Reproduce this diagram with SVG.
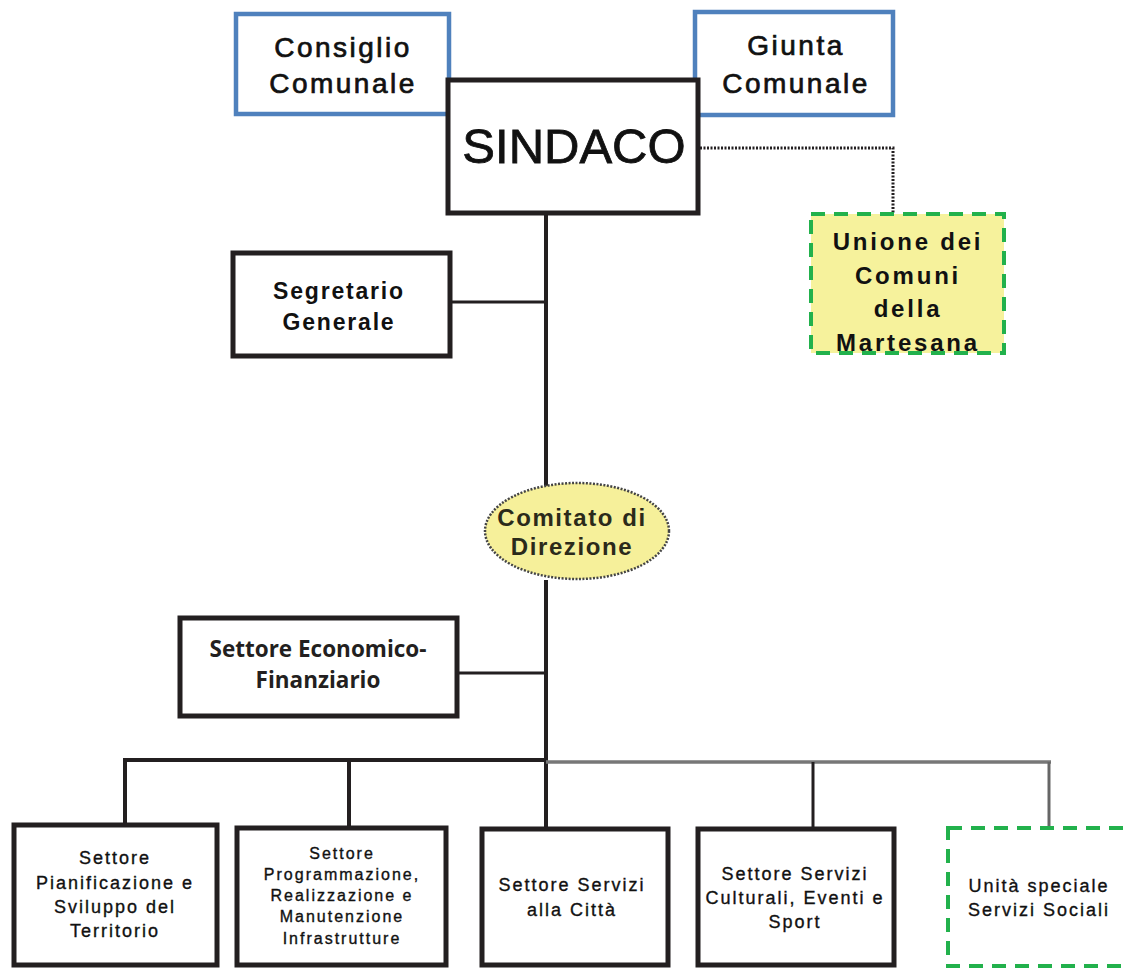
<svg xmlns="http://www.w3.org/2000/svg" width="1126" height="968" viewBox="0 0 1126 968">
<style>
.box{fill:#fff;stroke:#231f20;stroke-width:5}
.blue{fill:#fff;stroke:#4f81bd;stroke-width:4.5}
.green{stroke:#22b14c;stroke-width:4;stroke-dasharray:14,9}
.t{font-family:"Liberation Sans",Arial,sans-serif;fill:#111;text-anchor:middle}
.big{font-size:28px;letter-spacing:2.5px;stroke:#111;stroke-width:0.7px}
.b{font-weight:bold}
.sm{font-size:18px;letter-spacing:2px;stroke:#111;stroke-width:0.35px}
.xs{font-size:16px;letter-spacing:2px;stroke:#111;stroke-width:0.35px}
.ln{stroke:#231f20;fill:none}
</style>
<rect width="1126" height="968" fill="#fff"/>
<g id="connectors">
<path class="ln" d="M700 148 H893 V213" stroke-width="3" stroke="#444" stroke-dasharray="2,1.5"/>
<path class="ln" d="M546 213 V486" stroke-width="4"/>
<path class="ln" d="M546 580 V828" stroke-width="4"/>
<path class="ln" d="M450 302 H546" stroke-width="3"/>
<path class="ln" d="M458 673 H546" stroke-width="3" stroke="#333"/>
<path class="ln" d="M123 760 H548" stroke-width="4"/>
<path class="ln" d="M125 758 V824" stroke-width="4"/>
<path class="ln" d="M349 758 V827" stroke-width="4"/>
<path d="M546 762 H1051" stroke="#777" stroke-width="3.5" fill="none"/>
<path class="ln" d="M813 762 V828" stroke-width="3" stroke="#333"/>
<path d="M1049 762 V830" stroke="#666" stroke-width="3" fill="none"/>
</g>
<g id="consiglio">
<rect class="blue" x="236" y="14" width="213" height="100"/>
<text class="t big" x="343" y="57">Consiglio</text>
<text class="t big" x="343" y="93">Comunale</text>
</g>
<g id="giunta">
<rect class="blue" x="695" y="12" width="198" height="103"/>
<text class="t big" x="796" y="55">Giunta</text>
<text class="t big" x="796" y="93">Comunale</text>
</g>
<g id="sindaco">
<rect class="box" x="448" y="80" width="250" height="133"/>
<text class="t" x="574" y="163" font-size="49" stroke="#111" stroke-width="0.8">SINDACO</text>
</g>
<g id="unione">
<rect x="811" y="214" width="193" height="139" fill="#f6f29c" class="green"/>
<text class="t b" x="908" y="250" font-size="24" letter-spacing="2.8">Unione dei</text>
<text class="t b" x="908" y="284" font-size="24" letter-spacing="2.8">Comuni</text>
<text class="t b" x="908" y="317" font-size="24" letter-spacing="2.8">della</text>
<text class="t b" x="908" y="351" font-size="24" letter-spacing="2.8">Martesana</text>
</g>
<g id="segretario">
<rect class="box" x="233" y="253" width="217" height="103"/>
<text class="t b" x="339" y="299" font-size="23" letter-spacing="1.8">Segretario</text>
<text class="t b" x="339" y="330" font-size="23" letter-spacing="1.8">Generale</text>
</g>
<g id="comitato">
<ellipse cx="577" cy="531" rx="92" ry="48" fill="#f6f09a" stroke="#444" stroke-width="2.5" stroke-dasharray="2,1.5"/>
<text class="t b" x="572" y="526" font-size="24" letter-spacing="1.6" style="fill:#2b2a1a">Comitato di</text>
<text class="t b" x="572" y="555" font-size="24" letter-spacing="1.6" style="fill:#2b2a1a">Direzione</text>
</g>
<g id="economico">
<rect class="box" x="180" y="618" width="277" height="98" stroke-width="4.5"/>
<text x="318" y="657" font-family="'Open Sans','Noto Sans',sans-serif" font-weight="bold" font-size="22.5" text-anchor="middle" fill="#231f20">Settore Economico-</text>
<text x="318" y="688" font-family="'Open Sans','Noto Sans',sans-serif" font-weight="bold" font-size="22.5" text-anchor="middle" fill="#231f20">Finanziario</text>
</g>
<g id="pianificazione">
<rect class="box" x="14" y="825" width="203" height="140"/>
<text class="t sm" x="115" y="864">Settore</text>
<text class="t sm" x="115" y="889">Pianificazione e</text>
<text class="t sm" x="115" y="913">Sviluppo del</text>
<text class="t sm" x="115" y="937">Territorio</text>
</g>
<g id="programmazione">
<rect class="box" x="237" y="828" width="209" height="137"/>
<text class="t xs" x="342" y="859">Settore</text>
<text class="t xs" x="342" y="880">Programmazione,</text>
<text class="t xs" x="342" y="901">Realizzazione e</text>
<text class="t xs" x="342" y="922">Manutenzione</text>
<text class="t xs" x="342" y="944">Infrastrutture</text>
</g>
<g id="citta">
<rect class="box" x="482" y="829" width="186" height="136"/>
<text class="t sm" x="572" y="891">Settore Servizi</text>
<text class="t sm" x="572" y="916">alla Città</text>
</g>
<g id="culturali">
<rect class="box" x="698" y="829" width="196" height="136"/>
<text class="t sm" x="795" y="880">Settore Servizi</text>
<text class="t sm" x="795" y="904">Culturali, Eventi e</text>
<text class="t sm" x="795" y="928">Sport</text>
</g>
<g id="sociali">
<rect x="948" y="828" width="190" height="138" fill="#fff" class="green"/>
<text class="t sm" x="1039" y="892">Unità speciale</text>
<text class="t sm" x="1039" y="916">Servizi Sociali</text>
</g>
</svg>
